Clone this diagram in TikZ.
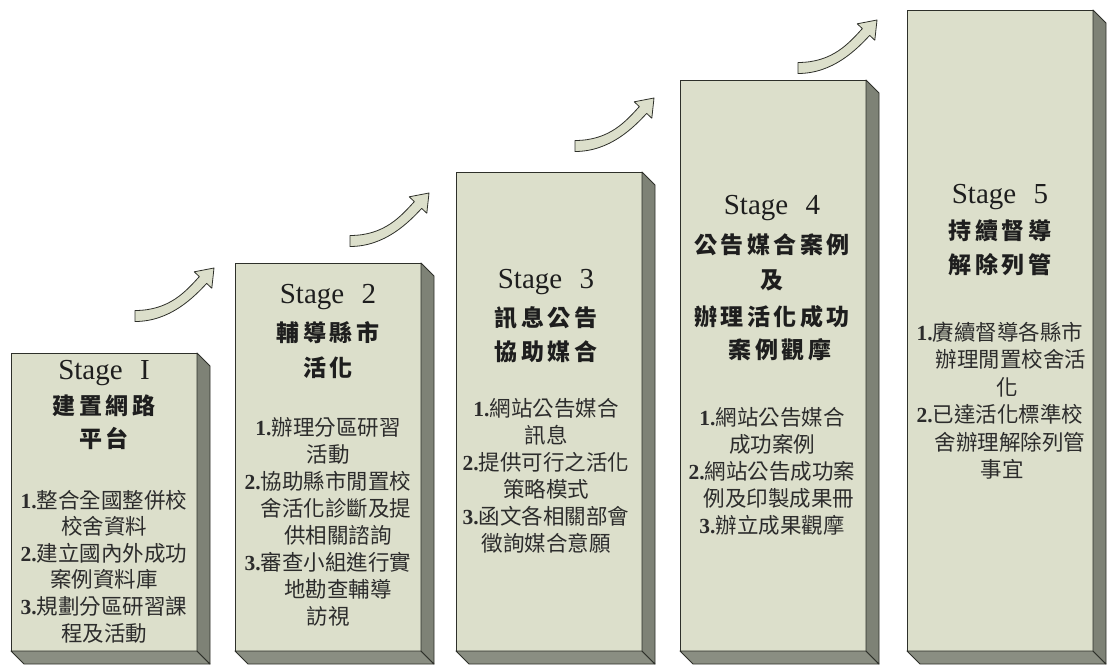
\documentclass[tikz,border=0pt]{standalone}
\usepackage{fontspec}
\setmainfont{Liberation Serif}
\newfontfamily\cjk{Noto Sans CJK TC}
\newfontfamily\cjkh[LetterSpace=15]{Noto Sans CJK TC}
\definecolor{face}{HTML}{DCDFCB}
\definecolor{sidec}{HTML}{7E8276}
\definecolor{botc}{HTML}{8A8E82}
\definecolor{edge}{HTML}{2E302A}
\definecolor{txt}{HTML}{1E1E1E}
\definecolor{txtb}{HTML}{2C2C2C}
\newcommand\nm[1]{{\rmfamily\bfseries #1}}
\newcommand\stg[1]{Stage\hspace{.6em}#1}
\tikzset{
  front/.style={fill=face, draw=edge, line width=0.9pt, inner sep=0pt, outer sep=0pt},
  sideface/.style={fill=sidec, draw=edge, line width=0.9pt, line join=round},
  botface/.style={fill=botc, draw=edge, line width=0.9pt, line join=round},
  stagelbl/.style={font=\fontsize{29}{29}\selectfont, text=txt, inner sep=0pt},
  headlbl/.style={font=\cjkh\bfseries\fontsize{23}{23}\selectfont, text=txt, inner sep=0pt},
  itemlbl/.style={font=\cjk\fontsize{21.5}{21.5}\selectfont, text=txtb, inner sep=0pt},
  blockarrow/.style={fill=face, draw=edge, line width=0.8pt, line join=round},
  stagearrow/.pic={
    \draw[blockarrow] (0,5.5) -- (0,-5.5) .. controls (35,-5.5) and (51.35,-25.4) .. (64.35,-39.4)
      -- (59.2,-44.2) -- (79,-48) -- (76.8,-27.8) -- (71.65,-32.6)
      .. controls (58.65,-18.6) and (35,5.5) .. (0,5.5) -- cycle;
  }
}
\newcommand\itemlines[5]{% prefix, cx, y0, step, list dx/text
  \foreach \dx/\t [count=\i from 0] in {#5} {\node[itemlbl] (#1-\i) at ({#2+\dx},{#3+#4*\i}) {\t};}
}
\begin{document}
\begin{tikzpicture}[x=1pt,y=-1pt]
\useasboundingbox (0,0) rectangle (1107,666);
% boxes
\foreach \n/\L/\T in {1/11/353, 2/235/263, 3/456/172, 4/680/80, 5/907/10} {
  \pgfmathsetmacro\H{651-\T}
  \node[front, anchor=north west, minimum width=186pt, minimum height=\H pt] (s\n) at (\L,\T) {};
  \path[botface] (s\n.south west) -- ++(13,13) -- ++(186,0) -- (s\n.south east) -- cycle;
  \path[sideface] (s\n.north east) -- ++(13,13) -- ++(0,\H) -- (s\n.south east) -- cycle;
}
% arrows
\pic at (135,316) {stagearrow};
\pic at (350,241) {stagearrow};
\pic at (575,146) {stagearrow};
\pic at (798,68) {stagearrow};
% Stage 1
\node[stagelbl] (t1) at (104,373) {\stg{I}};
\node[headlbl] (h1a) at (104,406) {建置網路};
\node[headlbl] (h1b) at (104,438) {平台};
\itemlines{i1}{104}{500}{26.6}{0/\nm{1.}整合全國整併校, 0/校舍資料, 0/\nm{2.}建立國內外成功, 0/案例資料庫, 0/\nm{3.}規劃分區研習課, 0/程及活動}
% Stage 2
\node[stagelbl] (t2) at (328,297) {\stg{2}};
\node[headlbl] (h2a) at (328,333) {輔導縣市};
\node[headlbl] (h2b) at (328,368) {活化};
\itemlines{i2}{328}{427}{27}{0/\nm{1.}辦理分區研習, 0/活動, 0/\nm{2.}協助縣市閒置校, 8/舍活化診斷及提, 10/供相關諮詢, 0/\nm{3.}審查小組進行實, 10/地勘查輔導, 0/訪視}
% Stage 3
\node[stagelbl] (t3) at (546,282) {\stg{3}};
\node[headlbl] (h3a) at (546,318) {訊息公告};
\node[headlbl] (h3b) at (546,352) {協助媒合};
\itemlines{i3}{546}{408}{27}{0/\nm{1.}網站公告媒合, 0/訊息, 0/\nm{2.}提供可行之活化, 0/策略模式, 0/\nm{3.}函文各相關部會, 0/徵詢媒合意願}
% Stage 4
\node[stagelbl] (t4) at (772,208) {\stg{4}};
\node[headlbl] (h4a) at (772,245) {公告媒合案例};
\node[headlbl] (h4b) at (772,280) {及};
\node[headlbl] (h4c) at (772,317) {辦理活化成功};
\node[headlbl] (h4d) at (780,350) {案例觀摩};
\itemlines{i4}{772}{417}{27}{0/\nm{1.}網站公告媒合, 0/成功案例, 0/\nm{2.}網站公告成功案, 7/例及印製成果冊, 0/\nm{3.}辦立成果觀摩}
% Stage 5
\node[stagelbl] (t5) at (1000,197) {\stg{5}};
\node[headlbl] (h5a) at (1000,231) {持續督導};
\node[headlbl] (h5b) at (1000,265) {解除列管};
\itemlines{i5}{1000}{332}{27.5}{0/\nm{1.}賡續督導各縣市, 11/辦理閒置校舍活, 7/化, 0/\nm{2.}已達活化標準校, 10/舍辦理解除列管, 2/事宜}
\end{tikzpicture}
\end{document}
